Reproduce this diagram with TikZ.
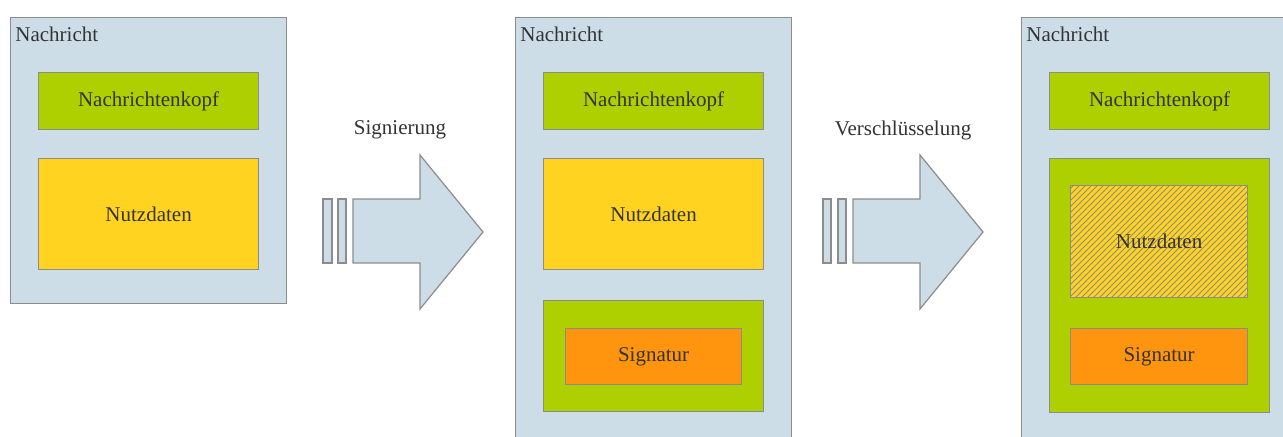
\documentclass[tikz,border=0pt]{standalone}
\usepackage{fontspec}
\setmainfont{Liberation Serif}
\usepackage{tikz}
\usetikzlibrary{patterns}

\definecolor{msgblue}{RGB}{204,221,232}
\definecolor{headgreen}{RGB}{174,207,0}
\definecolor{datayellow}{RGB}{255,211,32}
\definecolor{sigorange}{RGB}{255,149,14}
\definecolor{rim}{RGB}{140,140,140}
\definecolor{ink}{RGB}{51,51,51}

\begin{document}
\begin{tikzpicture}[x=0.5pt, y=-0.5pt,
    font=\fontsize{10.5pt}{12pt}\selectfont,
    box/.style={
      rectangle,
      draw=rim,
      line width=0.6pt,
      inner sep=0pt,
      anchor=north west,
      text=ink
    },
    message/.style={box, fill=msgblue, minimum width=138pt},
    header/.style={box, fill=headgreen, minimum width=110pt, minimum height=28.5pt},
    payload/.style={box, fill=datayellow, minimum width=110pt, minimum height=55.5pt},
    signature/.style={box, fill=sigorange, minimum height=28pt},
    caption/.style={text=ink, inner sep=0pt},
    shaft/.style={draw=rim, line width=0.6pt, fill=msgblue, line join=miter}
]

\useasboundingbox (0,0) rectangle (1283,437);
\clip (0,0) rectangle (1283,437);

%% Message 1
\node [message, minimum height=143pt] (msg1) at (10,17) {};
\node [caption, anchor=base west] (msg1label) at (15,42) {Nachricht};
\node [header] (head1) at (38,72) {Nachrichtenkopf};
\node [payload] (data1) at (38,158) {Nutzdaten};

%% Message 2
\node [message, minimum height=220pt] (msg2) at (515,17) {};
\node [caption, anchor=base west] (msg2label) at (520,42) {Nachricht};
\node [header] (head2) at (543,72) {Nachrichtenkopf};
\node [payload] (data2) at (543,158) {Nutzdaten};
\node [box, fill=headgreen, minimum width=110pt, minimum height=55.5pt] (wrap2) at (543,300) {};
\node [signature, minimum width=88pt] (sig2) at (565,328) {Signatur};

%% Message 3
\node [message, minimum height=220pt] (msg3) at (1021,17) {};
\node [caption, anchor=base west] (msg3label) at (1026,42) {Nachricht};
\node [header] (head3) at (1049,72) {Nachrichtenkopf};
\node [box, fill=headgreen, minimum width=110pt, minimum height=127pt] (wrap3) at (1049,158) {};
\node [box, fill=datayellow, minimum width=88.5pt, minimum height=56pt,
       postaction={pattern=north east lines, pattern color=rim}] (data3) at (1070,185) {};
\node [text=ink] (data3text) at (data3.center) {Nutzdaten};
\node [signature, minimum width=88.5pt] (sig3) at (1070,328) {Signatur};

%% Arrows

\draw [shaft] (323,199) rectangle (332,263);
\draw [shaft] (338,199) rectangle (346,263);
\draw [shaft] (353,199) -- (420,199) -- (420,155) -- (483,232) -- (420,309) -- (420,263) -- (353,263) -- cycle;
\node [caption] (signing) at (400,130) {Signierung};

\draw [shaft] (823,199) rectangle (831,263);
\draw [shaft] (838,199) rectangle (846,263);
\draw [shaft] (853,199) -- (920,199) -- (920,155) -- (983,232) -- (920,309) -- (920,263) -- (853,263) -- cycle;
\node [caption] (encrypting) at (903,130) {Verschlüsselung};

\end{tikzpicture}
\end{document}
